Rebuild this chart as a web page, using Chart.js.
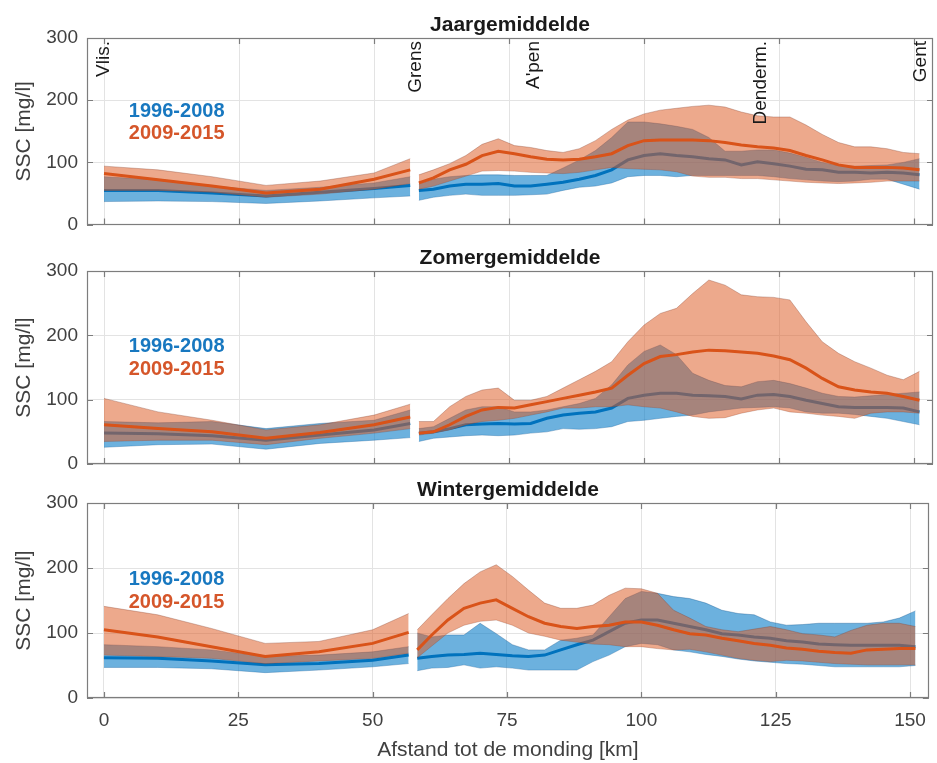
<!DOCTYPE html>
<html>
<head>
<meta charset="utf-8">
<script src="https://cdn.jsdelivr.net/npm/chart.js@4.4.1/dist/chart.umd.min.js"></script>
<style>
  html, body { margin:0; padding:0; background:#fff; }
  #wrap { position:relative; width:937px; height:763px; }
  .panel { position:absolute; left:0; width:937px; }
</style>
</head>
<body>
<div id="wrap">
  <div class="panel" style="top:0;height:245px"><canvas id="p-jaar"></canvas></div>
  <div class="panel" style="top:235px;height:250px"><canvas id="p-zomer"></canvas></div>
  <div class="panel" style="top:468px;height:295px"><canvas id="p-winter"></canvas></div>
</div>
<script>
// afstand tot de monding [km]; gat in de meetreeks tussen 56.7 en 58.3
const KM = [0,10,20,30,40,50,56.7, 58.3,61,64,67,70,73,76,79,82,85,88,91,94,97,100,103,106,109,112,115,118,121,124,127,130,133,136,139,142,145,148,151]
const GAP_KM = 57.5
const XTICKS = [0,25,50,75,100,125,150]
const YTICKS = [0,100,200,300]
const X_MIN = -3.15, X_MAX = 153.5
const PERIODES = ['1996-2008','2009-2015']
const STATIONS = ['Vlis.','Grens',"A'pen",'Denderm.','Gent']
const STATION_KM = [0,57.7,79.5,121.6,151.3]

// jaargemiddelde SSC [mg/l]
const JAAR_OUD_MIN   = [37,38,37,34,38,43,46, 39,44,47,49,47,47,47,48,49,55,60,62,67,77,79,79,77,79,79,79,79,79,77,74,72,70,69,70,73,73,65,57]
const JAAR_OUD_GEM   = [55,55,51,46,52,58,63, 55,57,62,65,65,66,62,62,65,68,73,79,88,104,111,114,111,109,106,104,96,101,98,94,89,88,84,84,83,84,83,80]
const JAAR_OUD_MAX   = [77,72,62,55,60,67,77, 65,73,77,79,80,80,79,79,79,91,104,119,140,165,165,162,158,153,140,118,118,120,120,115,108,100,95,94,95,96,100,106]
const JAAR_NIEUW_MIN = [55,55,52,44,49,57,66, 57,62,70,78,86,87,86,84,83,82,84,88,92,90,89,88,85,78,76,76,74,74,72,70,68,67,66,67,68,70,70,70]
const JAAR_NIEUW_GEM = [82,72,62,51,57,73,88, 67,75,88,97,111,118,114,109,105,104,105,109,114,127,135,136,136,136,135,132,128,125,123,119,111,104,96,92,92,92,91,88]
const JAAR_NIEUW_MAX = [94,88,77,63,70,83,106, 80,88,98,111,129,138,127,124,119,116,122,135,153,168,178,184,187,190,192,189,181,175,173,173,160,145,132,125,125,122,116,114]

// zomergemiddelde
const ZOMER_OUD_MIN   = [26,30,31,23,32,37,41, 35,40,42,44,45,44,45,48,50,55,54,55,58,66,68,71,74,76,81,84,87,88,89,87,81,79,79,77,74,71,66,61]
const ZOMER_OUD_GEM   = [48,47,44,37,45,53,63, 48,50,55,61,62,63,62,63,71,76,79,81,87,102,107,110,110,107,106,105,101,107,108,105,99,94,89,88,88,88,87,81]
const ZOMER_OUD_MAX   = [66,64,66,55,63,68,84, 55,58,71,84,89,89,81,81,84,89,94,102,123,154,175,185,170,141,130,122,120,128,130,125,118,110,105,104,106,108,110,112]
const ZOMER_NIEUW_MIN = [35,37,37,30,40,48,55, 45,48,53,61,66,68,71,76,81,87,87,89,89,92,89,87,81,74,71,72,79,84,87,81,79,76,74,71,79,81,81,79]
const ZOMER_NIEUW_GEM = [61,55,50,40,49,61,73, 48,50,61,74,84,88,87,92,97,102,107,112,118,138,156,167,170,174,177,176,174,172,168,162,149,133,120,115,112,110,105,99]
const ZOMER_NIEUW_MAX = [102,81,68,53,61,76,93, 66,66,89,105,115,118,99,99,105,118,131,144,159,190,216,234,242,265,286,278,263,260,259,255,221,190,172,159,149,138,131,144]

// wintergemiddelde
const WINTER_OUD_MIN   = [47,47,45,39,43,48,53, 42,46,47,51,46,48,46,43,43,43,43,56,66,79,84,82,74,71,67,64,60,57,55,53,52,50,48,48,48,48,48,50]
const WINTER_OUD_GEM   = [62,61,57,51,53,58,66, 61,64,66,67,69,67,65,64,66,74,82,89,102,115,120,120,115,110,105,99,97,94,92,88,86,83,82,81,81,81,81,79]
const WINTER_OUD_MAX   = [82,79,74,64,66,71,79, 100,94,97,97,115,99,82,74,74,89,92,97,125,153,164,161,156,153,146,135,130,128,117,112,113,115,115,115,115,117,123,134]
const WINTER_NIEUW_MIN = [66,64,61,53,57,61,69, 62,80,100,112,118,120,112,100,95,89,86,83,82,79,79,76,74,75,71,66,61,58,56,58,57,55,53,52,51,51,51,51]
const WINTER_NIEUW_GEM = [105,94,79,64,71,84,101, 74,97,120,138,146,151,138,125,115,110,107,110,112,117,117,112,105,99,97,92,88,84,81,77,75,72,70,69,74,75,76,76]
const WINTER_NIEUW_MAX = [141,128,107,84,87,105,130, 105,128,153,176,194,205,187,166,146,138,138,143,158,169,168,161,135,123,110,105,102,106,110,105,99,97,94,104,112,115,115,110]

const FONT = '"Liberation Sans", Arial, Helvetica, sans-serif'
const AS_KLEUR = '#7d7d7d', GRID = '#e3e3e3', TEKST = '#404040'
const BLAUW = {lijn:'#0072BD', vlak:'rgba(10,125,200,0.6)', rand:'rgba(0,70,130,0.4)'}
const ORANJE = {lijn:'#D95319', vlak:'rgba(220,90,35,0.52)', rand:'rgba(130,60,40,0.4)'}

Chart.defaults.font.family = FONT
Chart.defaults.color = TEKST

const WEST = KM.map((k,i)=>i).filter(i=>KM[i] < GAP_KM)
const OOST = KM.map((k,i)=>i).filter(i=>KM[i] > GAP_KM)
const pts = (vals, idx) => idx.map(i => ({x:KM[i], y:vals[i]}))

function periodeSets([lo, gem, hi], kl) {
  const sets = []
  for (const deel of [WEST, OOST])
    sets.push({data:pts(gem,deel), borderColor:kl.lijn, borderWidth:3, fill:false})
  for (const deel of [WEST, OOST]) {
    sets.push({data:pts(hi,deel), borderColor:kl.rand, borderWidth:0.8, backgroundColor:kl.vlak, fill:'+1'})
    sets.push({data:pts(lo,deel), borderColor:kl.rand, borderWidth:0.8, fill:false})
  }
  return sets
}

const kader = {
  id:'kader',
  afterDatasetsDraw(chart, args, o) {
    const {ctx, chartArea:a, scales:{x, y}} = chart
    ctx.save()
    ctx.strokeStyle = AS_KLEUR
    ctx.lineWidth = 1.2
    ctx.beginPath()
    XTICKS.forEach(v => {
      const px = Math.round(x.getPixelForValue(v)) + 0.5
      ctx.moveTo(px, a.bottom); ctx.lineTo(px, a.bottom - 6)
      ctx.moveTo(px, a.top); ctx.lineTo(px, a.top + 6)
    })
    YTICKS.forEach(v => {
      const py = Math.round(y.getPixelForValue(v)) + 0.5
      ctx.moveTo(a.left, py); ctx.lineTo(a.left + 6, py)
      ctx.moveTo(a.right, py); ctx.lineTo(a.right - 6, py)
    })
    ctx.stroke()
    ctx.strokeRect(Math.round(a.left)+0.5, Math.round(a.top)+0.5, Math.round(a.width)-1, Math.round(a.height)-1)

    // paneeltitel
    ctx.fillStyle = '#1a1a1a'
    ctx.font = 'bold 21px ' + FONT
    ctx.textAlign = 'center'
    ctx.textBaseline = 'middle'
    ctx.fillText(o.titel, (a.left + a.right)/2, a.top - 13)

    // periodes
    ctx.font = 'bold 20px ' + FONT
    ctx.textAlign = 'left'
    ctx.fillStyle = '#1878c0'
    ctx.fillText(PERIODES[0], x.getPixelForValue(4.6), y.getPixelForValue(182))
    ctx.fillStyle = '#d5562a'
    ctx.fillText(PERIODES[1], x.getPixelForValue(4.6), y.getPixelForValue(147))

    // stations
    if (o.stations) {
      ctx.font = '19px ' + FONT
      ctx.fillStyle = '#1a1a1a'
      ctx.textAlign = 'right'
      STATIONS.forEach((s, i) => {
        ctx.save()
        ctx.translate(x.getPixelForValue(STATION_KM[i]), a.top + 3)
        ctx.rotate(-Math.PI/2)
        ctx.fillText(s, 0, 0)
        ctx.restore()
      })
    }
    ctx.restore()
  }
}

function paneel(id, titel, oud, nieuw, cfg) {
  new Chart(document.getElementById(id), {
    type:'line',
    data:{datasets:[...periodeSets(nieuw, ORANJE), ...periodeSets(oud, BLAUW)]},
    plugins:[kader],
    options:{
      responsive:true, maintainAspectRatio:false, animation:false,
      layout:{padding:{top:cfg.top, bottom:cfg.bottom, left:0, right:4}},
      elements:{point:{radius:0}, line:{tension:0}},
      plugins:{legend:{display:false}, tooltip:{enabled:false}, kader:{titel, stations:cfg.stations}},
      scales:{
        x:{
          type:'linear', min:X_MIN, max:X_MAX,
          afterBuildTicks:s => { s.ticks = XTICKS.map(v => ({value:v})) },
          afterFit:s => { s.height = cfg.xh },
          grid:{color:GRID, drawTicks:false},
          border:{display:false},
          ticks:{display:cfg.xas, padding:11, font:{size:19}, color:TEKST},
          title:{display:cfg.xas, text:'Afstand tot de monding [km]', font:{size:21}, color:TEKST, padding:{top:0, bottom:0}}
        },
        y:{
          min:0, max:300,
          afterBuildTicks:s => { s.ticks = YTICKS.map(v => ({value:v})) },
          afterFit:s => { s.width = 87 },
          grid:{color:GRID, drawTicks:false},
          border:{display:false},
          ticks:{padding:9, font:{size:19}, color:TEKST},
          title:{display:true, text:'SSC [mg/l]', font:{size:21}, color:TEKST, padding:{top:12, bottom:0}}
        }
      }
    }
  })
}

paneel('p-jaar', 'Jaargemiddelde',
  [JAAR_OUD_MIN, JAAR_OUD_GEM, JAAR_OUD_MAX], [JAAR_NIEUW_MIN, JAAR_NIEUW_GEM, JAAR_NIEUW_MAX],
  {top:38, bottom:13, xh:0, xas:false, stations:true})
paneel('p-zomer', 'Zomergemiddelde',
  [ZOMER_OUD_MIN, ZOMER_OUD_GEM, ZOMER_OUD_MAX], [ZOMER_NIEUW_MIN, ZOMER_NIEUW_GEM, ZOMER_NIEUW_MAX],
  {top:36, bottom:21, xh:0, xas:false, stations:false})
paneel('p-winter', 'Wintergemiddelde',
  [WINTER_OUD_MIN, WINTER_OUD_GEM, WINTER_OUD_MAX], [WINTER_NIEUW_MIN, WINTER_NIEUW_GEM, WINTER_NIEUW_MAX],
  {top:35, bottom:0, xh:65, xas:true, stations:false})
</script>
</body>
</html>
